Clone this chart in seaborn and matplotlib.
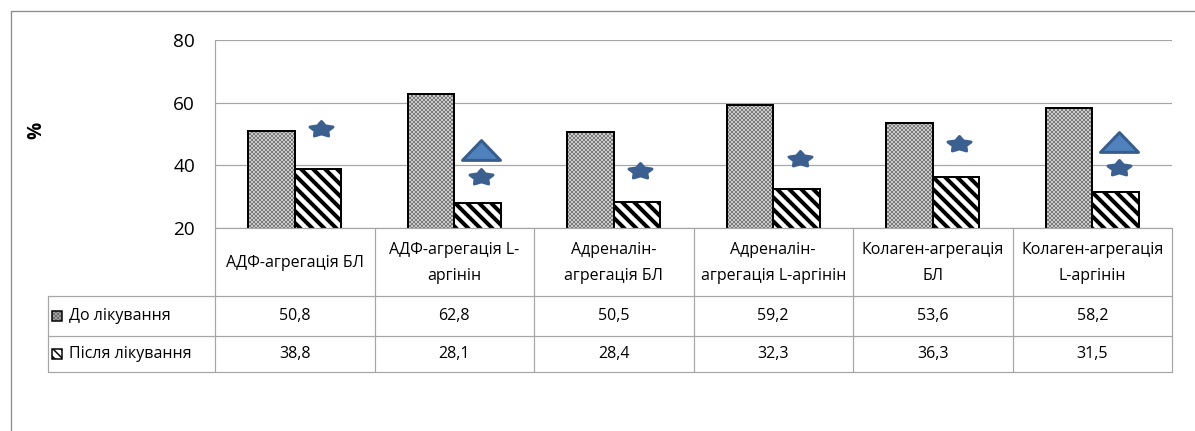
import numpy as np
import pandas as pd
import seaborn as sns
import matplotlib
matplotlib.use("Agg")
import matplotlib.pyplot as plt
from matplotlib.path import Path
from matplotlib.lines import Line2D
from matplotlib.patches import Rectangle
from matplotlib import transforms
from matplotlib.colors import to_rgba

# ---- data -----------------------------------------------------------------
categories = [
    "АДФ-агрегація БЛ",
    "АДФ-агрегація L-\nаргінін",
    "Адреналін-\nагрегація БЛ",
    "Адреналін-\nагрегація L-аргінін",
    "Колаген-агрегація\nБЛ",
    "Колаген-агрегація\nL-аргінін",
]
series_names = ["До лікування", "Після лікування"]
before_values = [50.8, 62.8, 50.5, 59.2, 53.6, 58.2]
after_values = [38.8, 28.1, 28.4, 32.3, 36.3, 31.5]

# significance marks above the "after" bars
star_values = [51.6, 36.3, 38.2, 42.0, 46.8, 39.1]
triangle_groups = [1, 5]
triangle_values = [44.9, 47.6]

y_ticks = [20, 40, 60, 80]
y_label = "%"

# ---- style ----------------------------------------------------------------
sns.set_theme(style="white")
plt.rcParams["font.family"] = ["Open Sans", "DejaVu Sans"]
plt.rcParams["text.color"] = "black"
plt.rcParams["ytick.color"] = "black"

DPI = 72
W, H = 1195, 431
fig = plt.figure(figsize=(W / DPI, H / DPI), dpi=DPI)
fig.patch.set_facecolor("white")


def fx(px):
    return px / W


def fy(py):
    return 1 - py / H


ax_left, ax_right, ax_top, ax_bottom = 215, 1172, 40, 228
ax = fig.add_axes([fx(ax_left), fy(ax_bottom), fx(ax_right - ax_left),
                   (ax_bottom - ax_top) / H])

df = pd.DataFrame({
    "category": categories * 2,
    "period": [series_names[0]] * len(categories) + [series_names[1]] * len(categories),
    "value": before_values + after_values,
})

sns.barplot(data=df, x="category", y="value", hue="period", order=categories,
            hue_order=series_names, palette=["white", "white"], width=0.58,
            gap=0, legend=False, ax=ax, zorder=3)

grid_col = "#a6a6a6"
# (hatch, face colour, hatch colour, hatch width)
hatch_styles = [("xxxxxx", "#e6e6e6", "#7a7a7a", 1.0),
                ("\\\\", "white", "black", 4.0)]
for cont, (hatch, fcol, hcol, hlw) in zip(ax.containers, hatch_styles):
    for bar in cont:
        bar.set_facecolor(fcol)
        bar.set_edgecolor("black")
        bar.set_linewidth(2.0)
        bar.set_hatch(hatch)
        bar._hatch_color = to_rgba(hcol)
        if hasattr(bar, "set_hatch_linewidth"):
            bar.set_hatch_linewidth(hlw)

# significance markers
t = np.linspace(0, 2 * np.pi, 11)[:-1] + np.pi / 2
r = np.where(np.arange(10) % 2 == 0, 1.0, 0.55)
star_verts = np.column_stack([r * np.cos(t), 0.66 * r * np.sin(t)])
star_path = Path(np.vstack([star_verts, star_verts[:1]]), closed=True)
tri_path = Path([(-1, -0.52), (1, -0.52), (0, 0.52), (-1, -0.52)], closed=True)

mark_x = np.arange(len(categories)) + 0.165
sns.scatterplot(x=mark_x, y=star_values, marker=star_path, s=23 ** 2,
                color="#3b5f8f", edgecolor="#3b5f8f", linewidth=3, ax=ax,
                zorder=5, clip_on=False)
ax.collections[-1].set_joinstyle("round")
sns.scatterplot(x=mark_x[triangle_groups], y=triangle_values, marker=tri_path,
                s=38 ** 2, color="#4f81bd", edgecolor="#385d8a", linewidth=3,
                ax=ax, zorder=5, clip_on=False)

ax.set_xlim(-0.5, len(categories) - 0.5)
ax.set_ylim(y_ticks[0], y_ticks[-1])
ax.set_yticks(y_ticks)
ax.set_yticklabels([str(v) for v in y_ticks], fontsize=19)
ax.tick_params(axis="y", length=0, pad=20, labelcolor="black")
ax.set_xticks([])
ax.set_xlabel("")
ax.set_ylabel("")
ax.grid(axis="y", color=grid_col, linewidth=1.2, zorder=0)
ax.set_axisbelow(True)
for side in ["top", "right", "bottom"]:
    ax.spines[side].set_visible(False)
ax.spines["left"].set_color(grid_col)
ax.spines["left"].set_linewidth(1.2)

fig.text(fx(36), fy(130), y_label, rotation=90, fontsize=19, fontweight="bold",
         ha="center", va="center")

# ---- data table under the chart -------------------------------------------
row_header_bottom = 296
row1_bottom = 336
row2_bottom = 372
table_left = 48
tab_kw = dict(color=grid_col, linewidth=1.2, clip_on=False)

blend = transforms.blended_transform_factory(ax.transData, fig.transFigure)

# horizontal lines
fig.add_artist(Line2D([fx(ax_left), fx(ax_right)], [fy(ax_bottom)] * 2, **tab_kw))
for yy in (row_header_bottom, row1_bottom, row2_bottom):
    fig.add_artist(Line2D([fx(table_left), fx(ax_right)], [fy(yy)] * 2, **tab_kw))
# vertical lines
fig.add_artist(Line2D([fx(table_left)] * 2, [fy(row_header_bottom), fy(row2_bottom)], **tab_kw))
for i in range(len(categories) + 1):
    xb = i - 0.5
    fig.add_artist(Line2D([xb, xb], [fy(ax_bottom), fy(row2_bottom)],
                          transform=blend, **tab_kw))

txt_size = 16
for i, cat in enumerate(categories):
    fig.text(i, fy((ax_bottom + row_header_bottom) / 2 + 1), cat, transform=blend,
             ha="center", va="center", fontsize=txt_size, linespacing=1.8)
    for vals, (top, bot) in zip([before_values, after_values],
                                [(row_header_bottom, row1_bottom),
                                 (row1_bottom, row2_bottom)]):
        fig.text(i, fy((top + bot) / 2), f"{vals[i]:.1f}".replace(".", ","),
                 transform=blend, ha="center", va="center", fontsize=txt_size)

key_styles = [("xxxxxx", "#e6e6e6", "#6f6f6f"), ("\\\\\\", "white", "black")]
for name, (hatch, fcol, hcol), (top, bot) in zip(series_names, key_styles,
                                                 [(row_header_bottom, row1_bottom),
                                                  (row1_bottom, row2_bottom)]):
    cy = (top + bot) / 2
    key = Rectangle((fx(52), fy(cy + 5)), fx(10), 10 / H, transform=fig.transFigure,
                    facecolor=fcol, edgecolor="black", linewidth=1.5, hatch=hatch)
    key._hatch_color = to_rgba(hcol)
    if hasattr(key, "set_hatch_linewidth"):
        key.set_hatch_linewidth(1.5)
    fig.add_artist(key)
    fig.text(fx(69), fy(cy), name, ha="left", va="center", fontsize=txt_size)

# outer frame
frame_col = "#8c8c8c"
fig.add_artist(Line2D([fx(11), 1], [fy(11)] * 2, color=frame_col, linewidth=1.3))
fig.add_artist(Line2D([fx(11)] * 2, [fy(11), 0], color=frame_col, linewidth=1.3))

fig.savefig("out.png", dpi=DPI, facecolor="white")
